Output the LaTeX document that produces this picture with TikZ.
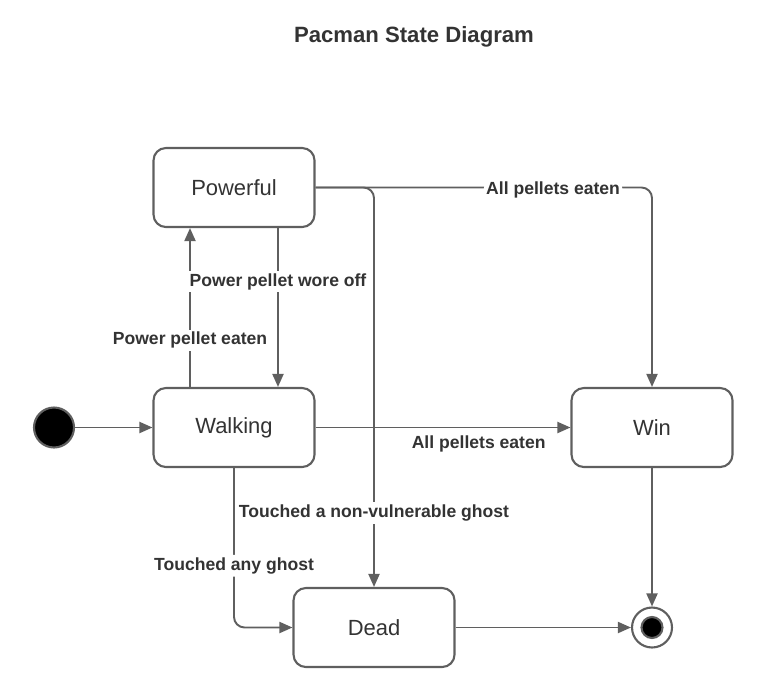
\documentclass[tikz,border=0pt]{standalone}
\usepackage{fontspec}
\setmainfont{Liberation Sans}
\usetikzlibrary{arrows.meta}
\definecolor{edgegray}{HTML}{5F5F5F}
\definecolor{textgray}{HTML}{333333}

\tikzset{
	state/.style={rectangle, draw=edgegray, line width=1.2pt, rounded corners=7pt, minimum width=3.22cm, minimum height=1.58cm, text=textgray, font=\fontsize{12.5}{14}\selectfont},
	arr/.style={draw=edgegray, line width=1.1pt, -{Triangle[length=0.26cm, width=0.22cm]}},
	lbl/.style={fill=white, inner sep=1.5pt, yshift=-1.5pt, text=textgray, font=\bfseries\fontsize{10}{12}\selectfont},
}

\begin{document}
\begin{tikzpicture}[x=0.02cm, y=-0.02cm]
\useasboundingbox (0,0) rectangle (759,693);
\node[text=textgray, font=\bfseries\fontsize{12.6}{15}\selectfont] (title) at (414, 37) {Pacman State Diagram};

\node[state] (P) at (234, 187.5) {Powerful};
\node[state] (K) at (234, 427.5) {Walking};
\node[state] (W) at (652, 427.5) {Win};
\node[state] (D) at (374, 627.5) {Dead};
\node[circle, draw=edgegray, line width=1.2pt, fill=black, minimum size=0.8cm] (I) at (54, 427.5) {};
\node[circle, draw=edgegray, line width=1.2pt, minimum size=0.8cm,
	path picture={\fill[black, draw=edgegray, line width=1.2pt] (path picture bounding box.center) circle (0.21cm);}] (F) at (652, 627.5) {};

\draw[arr] (I) -- (K);
\draw[arr] ([xshift=-0.88cm]K.north) -- node[lbl, pos=0.31] {Power pellet eaten} ([xshift=-0.88cm]P.south);
\draw[arr] ([xshift=0.88cm]P.south) -- node[lbl, pos=0.32] {Power pellet wore off} ([xshift=0.88cm]K.north);
\draw[arr, rounded corners=6pt] (P.east) -| node[lbl, pos=0.353] {All pellets eaten} (W.north);
\draw[arr, rounded corners=6pt] (P.east) -| node[lbl, pos=0.904] {Touched a non-vulnerable ghost} (D.north);
\draw[arr] (K) -- node[lbl, below=1pt, pos=0.64] {All pellets eaten} (W);
\draw[arr, rounded corners=6pt] (K.south) |- node[lbl, pos=0.298] {Touched any ghost} (D.west);
\draw[arr] (W) -- (F);
\draw[arr] (D) -- (F);
\end{tikzpicture}
\end{document}
